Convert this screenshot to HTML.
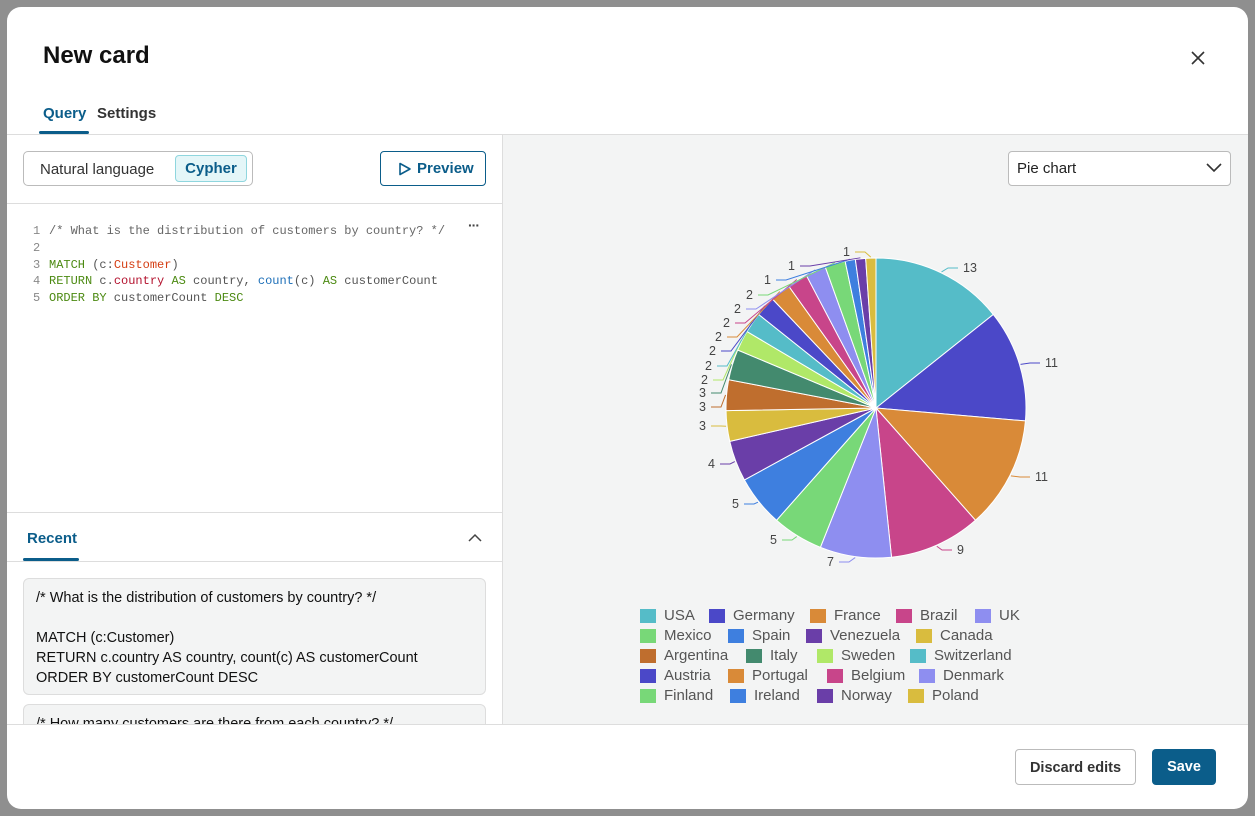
<!DOCTYPE html>
<html><head><meta charset="utf-8"><style>
*{box-sizing:border-box;margin:0;padding:0}
body{width:1255px;height:816px;background:#8f8f8f;font-family:"Liberation Sans",sans-serif;position:relative;overflow:hidden}
.abs{position:absolute}
#modal{left:7px;top:7px;width:1241px;height:802px;background:#fff;border-radius:14px;overflow:hidden}
.mono{font-family:"Liberation Mono",monospace;font-size:12px;white-space:pre}
.lg{position:absolute;font-size:15px;color:#555;height:16px;line-height:16px}
.lg i{position:absolute;left:0;top:1px;width:16px;height:14px}
.lg span{position:absolute;left:24px;top:0;white-space:nowrap}
</style></head><body>
<div id="modal" class="abs">
 <div class="abs" style="left:36px;top:35px;font-size:24px;font-weight:bold;color:#111">New card</div>
 <svg class="abs" style="left:1183px;top:43px" width="16" height="16"><path d="M2 2L14 14M14 2L2 14" stroke="#333" stroke-width="1.6"/></svg>
 <div class="abs" style="left:36px;top:98px;font-size:15px;color:#0b5d8a;font-weight:bold">Query</div>
 <div class="abs" style="left:90px;top:98px;font-size:15px;color:#333;font-weight:bold">Settings</div>
 <div class="abs" style="left:32px;top:124px;width:50px;height:3px;background:#0b5d8a;border-radius:2px"></div>
 <div class="abs" style="left:0;top:127px;width:1241px;height:1px;background:#ddd"></div>
 <div class="abs" style="left:495px;top:128px;width:746px;height:589px;background:#f3f4f4;border-left:1px solid #ddd"></div>
 <div class="abs" style="left:16px;top:144px;width:230px;height:35px;border:1px solid #bbb;border-radius:5px"></div>
 <div class="abs" style="left:33px;top:154px;font-size:15px;color:#333">Natural language</div>
 <div class="abs" style="left:168px;top:148px;width:72px;height:27px;background:#e4f6f8;border:1px solid #8fd6de;border-radius:4px;font-size:15px;color:#0b5d8a;font-weight:bold;text-align:center;line-height:26px">Cypher</div>
 <div class="abs" style="left:373px;top:144px;width:106px;height:35px;border:1.5px solid #0b5d8a;border-radius:4px;font-size:15px;color:#0b5d8a;font-weight:bold;line-height:33px;padding-left:36px">Preview</div>
 <svg class="abs" style="left:391px;top:155px" width="14" height="14"><path d="M2 1.5L12 7L2 12.5Z" fill="none" stroke="#0b5d8a" stroke-width="1.6" stroke-linejoin="round"/></svg>
 <div class="abs" style="left:0;top:196px;width:495px;height:1px;background:#ddd"></div>
 <div class="abs" style="left:461px;top:210px;font-size:14px;color:#444;font-weight:bold;letter-spacing:-1px">···</div>
 <div class="abs mono" style="left:26px;top:216px;line-height:16.8px;color:#888">1
2
3
4
5</div>
 <div class="abs mono" style="left:42px;top:216px;line-height:16.8px;color:#555"><span style="color:#666">/* What is the distribution of customers by country? */</span>

<span style="color:#4c8a12">MATCH</span> (c:<span style="color:#d43d12">Customer</span>)
<span style="color:#4c8a12">RETURN</span> c.<span style="color:#b3122e">country</span> <span style="color:#4c8a12">AS</span> country, <span style="color:#1d6fb8">count</span>(c) <span style="color:#4c8a12">AS</span> customerCount
<span style="color:#4c8a12">ORDER BY</span> customerCount <span style="color:#4c8a12">DESC</span></div>
 <div class="abs" style="left:0;top:505px;width:495px;height:1px;background:#ddd"></div>
 <div class="abs" style="left:20px;top:523px;font-size:15px;color:#0b5d8a;font-weight:bold">Recent</div>
 <svg class="abs" style="left:461px;top:526px" width="14" height="10"><path d="M1 8L7 2L13 8" fill="none" stroke="#444" stroke-width="1.5"/></svg>
 <div class="abs" style="left:16px;top:551px;width:56px;height:3px;background:#0b5d8a;border-radius:2px"></div>
 <div class="abs" style="left:0;top:554px;width:495px;height:1px;background:#ddd"></div>
 <div class="abs" style="left:16px;top:571px;width:463px;height:117px;background:#f3f4f4;border:1px solid #ddd;border-radius:6px;padding:9px 12px;font-size:14.5px;line-height:20px;color:#111;white-space:pre">/* What is the distribution of customers by country? */

MATCH (c:Customer)
RETURN c.country AS country, count(c) AS customerCount
ORDER BY customerCount DESC</div>
 <div class="abs" style="left:16px;top:697px;width:463px;height:20px;overflow:hidden"><div style="width:463px;height:60px;background:#f3f4f4;border:1px solid #ddd;border-radius:6px;padding:11px 12px;font-size:14.5px;color:#111">/* How many customers are there from each country? */</div></div>
 <div class="abs" style="left:0;top:717px;width:1241px;height:1px;background:#ddd"></div>
 <div class="abs" style="left:1001px;top:144px;width:223px;height:35px;background:#fff;border:1px solid #bbb;border-radius:4px;font-size:15px;color:#222;line-height:34px;padding-left:8px">Pie chart</div>
 <svg class="abs" style="left:1199px;top:156px" width="16" height="10"><path d="M1 1L8 8L15 1" fill="none" stroke="#333" stroke-width="1.6"/></svg>
 <div class="abs" style="left:1008px;top:742px;width:121px;height:36px;border:1px solid #bbb;border-radius:4px;font-size:14.5px;font-weight:bold;color:#333;text-align:center;line-height:36px">Discard edits</div>
 <div class="abs" style="left:1145px;top:742px;width:64px;height:36px;background:#0b5d8a;border-radius:4px;font-size:14.5px;font-weight:bold;color:#fff;text-align:center;line-height:36px">Save</div>
</div>
<svg id="pie" class="abs" style="left:0;top:0" width="1255" height="816" font-family="Liberation Sans, sans-serif" font-size="12.5" fill="#444">
<g id="sl"></g><g id="ln"></g>
<text x="963" y="272">13</text>
<text x="1045" y="367">11</text>
<text x="1035" y="481">11</text>
<text x="957" y="554">9</text>
<text x="827" y="566">7</text>
<text x="770" y="544">5</text>
<text x="732" y="508">5</text>
<text x="708" y="468">4</text>
<text x="699" y="430">3</text>
<text x="699" y="411">3</text>
<text x="699" y="397">3</text>
<text x="701" y="384">2</text>
<text x="705" y="370">2</text>
<text x="709" y="355">2</text>
<text x="715" y="341">2</text>
<text x="723" y="327">2</text>
<text x="734" y="313">2</text>
<text x="746" y="299">2</text>
<text x="764" y="284">1</text>
<text x="788" y="270">1</text>
<text x="843" y="256">1</text>
</svg>
<div class="lg" style="left:640px;top:608px"><i style="background:#55bcc8"></i><span>USA</span></div>
<div class="lg" style="left:709px;top:608px"><i style="background:#4b48c8"></i><span>Germany</span></div>
<div class="lg" style="left:810px;top:608px"><i style="background:#d98a38"></i><span>France</span></div>
<div class="lg" style="left:896px;top:608px"><i style="background:#c8458a"></i><span>Brazil</span></div>
<div class="lg" style="left:975px;top:608px"><i style="background:#8e8ef0"></i><span>UK</span></div>
<div class="lg" style="left:640px;top:628px"><i style="background:#78d878"></i><span>Mexico</span></div>
<div class="lg" style="left:728px;top:628px"><i style="background:#3e7fdf"></i><span>Spain</span></div>
<div class="lg" style="left:806px;top:628px"><i style="background:#6a3ea8"></i><span>Venezuela</span></div>
<div class="lg" style="left:916px;top:628px"><i style="background:#d9bc3e"></i><span>Canada</span></div>
<div class="lg" style="left:640px;top:648px"><i style="background:#bf6e2e"></i><span>Argentina</span></div>
<div class="lg" style="left:746px;top:648px"><i style="background:#438a6e"></i><span>Italy</span></div>
<div class="lg" style="left:817px;top:648px"><i style="background:#b0e868"></i><span>Sweden</span></div>
<div class="lg" style="left:910px;top:648px"><i style="background:#55bcc8"></i><span>Switzerland</span></div>
<div class="lg" style="left:640px;top:668px"><i style="background:#4b48c8"></i><span>Austria</span></div>
<div class="lg" style="left:728px;top:668px"><i style="background:#d98a38"></i><span>Portugal</span></div>
<div class="lg" style="left:827px;top:668px"><i style="background:#c8458a"></i><span>Belgium</span></div>
<div class="lg" style="left:919px;top:668px"><i style="background:#8e8ef0"></i><span>Denmark</span></div>
<div class="lg" style="left:640px;top:688px"><i style="background:#78d878"></i><span>Finland</span></div>
<div class="lg" style="left:730px;top:688px"><i style="background:#3e7fdf"></i><span>Ireland</span></div>
<div class="lg" style="left:817px;top:688px"><i style="background:#6a3ea8"></i><span>Norway</span></div>
<div class="lg" style="left:908px;top:688px"><i style="background:#d9bc3e"></i><span>Poland</span></div>
<script>
var v=[13,11,11,9,7,5,5,4,3,3,3,2,2,2,2,2,2,2,1,1,1];
var c=["#55bcc8","#4b48c8","#d98a38","#c8458a","#8e8ef0","#78d878","#3e7fdf","#6a3ea8","#d9bc3e","#bf6e2e","#438a6e","#b0e868","#55bcc8","#4b48c8","#d98a38","#c8458a","#8e8ef0","#78d878","#3e7fdf","#6a3ea8","#d9bc3e"];
var L=[[963,268],[1045,363],[1035,477],[957,550],[827,562],[770,540],[732,504],[708,464],[699,426],[699,407],[699,393],[701,380],[705,366],[709,351],[715,337],[723,323],[734,309],[746,295],[764,280],[788,266],[843,252]];
var cx=876,cy=408,r=150,t=91,a=-Math.PI/2,s="",ln="";
for(var i=0;i<v.length;i++){var b=a+v[i]/t*2*Math.PI;
var x1=cx+r*Math.cos(a),y1=cy+r*Math.sin(a),x2=cx+r*Math.cos(b),y2=cy+r*Math.sin(b);
s+='<path d="M'+cx+' '+cy+'L'+x1+' '+y1+'A'+r+' '+r+' 0 '+((b-a)>Math.PI?1:0)+' 1 '+x2+' '+y2+'Z" fill="'+c[i]+'" stroke="#fff" stroke-width="1"/>';
var m=(a+b)/2,px=cx+(r+1)*Math.cos(m),py=cy+(r+1)*Math.sin(m);
var left=Math.cos(m)<0,lx=left?L[i][0]+12:L[i][0]-5,ly=L[i][1];
var ex=left?lx+10:lx-10;
ln+='<polyline points="'+px+','+py+' '+ex+','+ly+' '+lx+','+ly+'" fill="none" stroke="'+c[i]+'" stroke-width="1"/>';
a=b;}
document.getElementById('sl').innerHTML=s;document.getElementById('ln').innerHTML=ln;
</script>
</body></html>
